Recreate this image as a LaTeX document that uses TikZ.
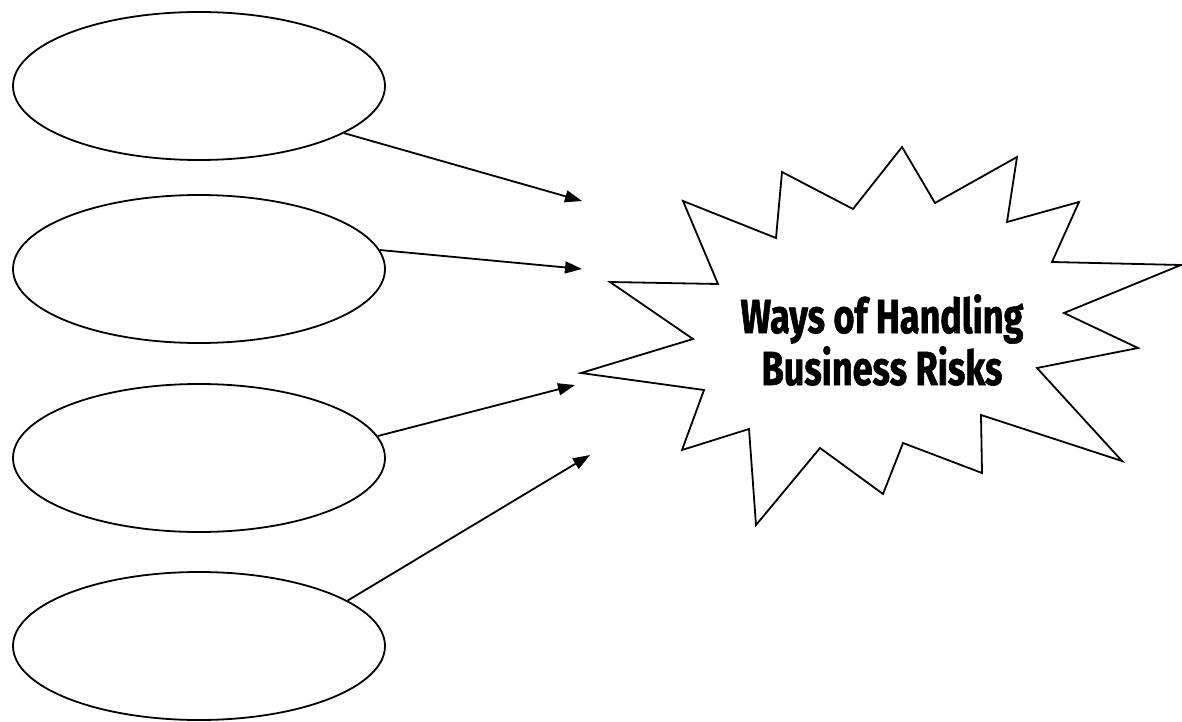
\documentclass[tikz,border=0pt]{standalone}
\usepackage{fontspec}
\usetikzlibrary{arrows.meta, shapes.geometric}
\newfontfamily\burstfont[FakeStretch=0.75, FakeBold=1.2]{Fira Sans}

\begin{document}
\begin{tikzpicture}[x = 1pt, y = -1pt]
\tikzstyle{WayStyle}=[shape = ellipse,
                      minimum width = 372pt,
                      minimum height = 148pt,
                      inner sep = 0pt,
                      line width = 1.8pt,
                      draw]
\tikzstyle{LinkStyle}=[line width = 1.8pt,
                       -{Triangle[length = 17pt, width = 12pt]}]

\useasboundingbox (0,0) rectangle (1182,722);

% the four empty ways
\node[WayStyle] (way1) at (199, 86) {};
\node[WayStyle] (way2) at (199,269) {};
\node[WayStyle] (way3) at (199,458) {};
\node[WayStyle] (way4) at (199,646) {};

% the burst
\draw[line width = 1.8pt, line join = miter]
  (902,147) -- (935,203) -- (1017,157) -- (1007,222) -- (1079,202) --
  (1052,262) -- (1181,265) -- (1064,313) -- (1138,348) -- (1037,368) --
  (1122,461) -- (981,415) -- (982,473) -- (903,443) -- (883,494) --
  (820,448) -- (756,525) -- (749,429) -- (682,450) -- (704,390) --
  (581,373) -- (693,339) -- (610,282) -- (718,284) -- (683,201) --
  (776,238) -- (782,172) -- (853,209) -- cycle;
\node[align = center, font = \burstfont\bfseries\fontsize{48}{52}\selectfont]
  (risks) at (882,340) {Ways of Handling\\Business Risks};

% arrow ends
\coordinate (tip1) at (582,201);
\coordinate (tip2) at (582,269);
\coordinate (tip3) at (575,385);
\coordinate (tip4) at (590,455);

\draw[LinkStyle] (way1.-18) -- (tip1);
\draw[LinkStyle] (way2.6)   -- (tip2);
\draw[LinkStyle] (way3.7)   -- (tip3);
\draw[LinkStyle] (way4.17)  -- (tip4);
\end{tikzpicture}
\end{document}
